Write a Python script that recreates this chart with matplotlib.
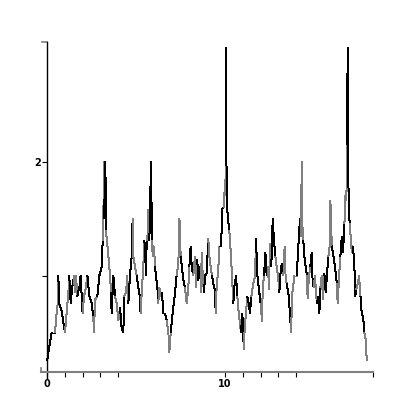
import numpy as np
import matplotlib
matplotlib.use('Agg')
import matplotlib.pyplot as plt
from matplotlib.collections import LineCollection

# Data
x_vals = [0.02, 0.075, 0.26, 0.45, 0.54, 0.6, 0.64, 0.67, 0.82, 1.01, 1.1, 1.2, 1.25, 1.33,
          1.42, 1.52, 1.57, 1.63, 1.7, 1.82, 1.89, 2.0, 2.08, 2.19, 2.27, 2.38, 2.51, 2.6,
          2.64, 2.7, 2.83, 2.94, 3.07, 3.13, 3.16, 3.2, 3.22, 3.25, 3.28, 3.31, 3.45, 3.54,
          3.6, 3.63, 3.73, 3.82, 3.91, 4.01, 4.1, 4.19, 4.29, 4.33, 4.44, 4.51, 4.57, 4.66,
          4.76, 4.81, 4.85, 4.94, 5.04, 5.13, 5.19, 5.26, 5.32, 5.41, 5.47, 5.52, 5.56, 5.6,
          5.66, 5.69, 5.75, 5.79, 5.84, 5.9, 5.94, 6.01, 6.07, 6.12, 6.2, 6.25, 6.31, 6.39,
          6.46, 6.54, 6.63, 6.72, 6.82, 6.87, 6.95, 7.06, 7.19, 7.28, 7.38, 7.44, 7.51, 7.58,
          7.66, 7.75, 7.85, 7.94, 8.0, 8.07, 8.13, 8.22, 8.31, 8.37, 8.44, 8.5, 8.6, 8.65,
          8.69, 8.75, 8.82, 8.88, 8.97, 9.06, 9.12, 9.19, 9.27, 9.34, 9.42, 9.48, 9.53, 9.63,
          9.68, 9.78, 9.85, 9.94, 10.0, 10.03, 10.06, 10.09, 10.15, 10.24, 10.34, 10.39,
          10.47, 10.52, 10.62, 10.69, 10.77, 10.84, 10.9, 10.97, 11.03, 11.05, 11.11, 11.18,
          11.25, 11.33, 11.4, 11.48, 11.59, 11.69, 11.74, 11.82, 11.93, 12.0, 12.08, 12.12,
          12.19, 12.27, 12.34, 12.42, 12.47, 12.53, 12.6, 12.68, 12.75, 12.83, 12.9, 12.98,
          13.05, 13.13, 13.2, 13.28, 13.35, 13.4, 13.46, 13.56, 13.65, 13.71, 13.78, 13.9,
          14.03, 14.12, 14.21, 14.27, 14.31, 14.35, 14.4, 14.46, 14.53, 14.61, 14.64, 14.72,
          14.79, 14.87, 14.92, 14.98, 15.06, 15.11, 15.17, 15.24, 15.3, 15.36, 15.43, 15.51,
          15.58, 15.66, 15.73, 15.81, 15.88, 15.92, 16.0, 16.09, 16.18, 16.28, 16.33, 16.41,
          16.48, 16.56, 16.63, 16.71, 16.78, 16.82, 16.86, 16.89, 16.93, 17.0, 17.08, 17.12,
          17.19, 17.27, 17.31, 17.38, 17.46, 17.53, 17.61, 17.68, 17.76, 17.83, 17.91, 17.96]
y_vals = [0.26, 0.33, 0.5, 0.5, 0.67, 0.75, 1.0, 0.76, 0.69, 0.5, 0.67, 0.85, 1.0, 0.76,
          0.9, 1.0, 0.85, 1.0, 0.82, 0.9, 1.0, 0.67, 0.82, 0.9, 1.0, 0.82, 0.76, 0.64,
          0.5, 0.79, 0.82, 1.0, 1.08, 1.31, 1.4, 2.0, 1.5, 2.0, 2.0, 1.4, 1.17, 1.0,
          0.85, 0.67, 1.0, 0.82, 0.76, 0.61, 0.72, 0.55, 0.5, 0.82, 0.85, 1.0, 0.76, 1.0,
          1.17, 1.5, 1.17, 1.08, 1.0, 0.9, 0.85, 0.67, 0.85, 1.08, 1.31, 1.17, 1.0, 1.31,
          1.37, 1.58, 1.31, 1.58, 2.0, 1.31, 1.17, 1.26, 1.08, 1.0, 0.9, 0.76, 0.9, 0.82,
          0.85, 0.67, 0.67, 0.61, 0.5, 0.33, 0.5, 0.67, 0.85, 1.0, 1.11, 1.5, 1.17, 1.08,
          0.96, 0.9, 0.76, 0.9, 1.08, 1.26, 1.08, 1.0, 1.17, 0.9, 1.14, 0.96, 1.08, 0.85,
          1.2, 1.0, 0.85, 1.0, 1.02, 1.33, 1.17, 1.08, 1.0, 0.93, 0.88, 0.67, 0.9, 1.08,
          1.26, 1.26, 1.59, 1.6, 1.84, 1.7, 3.0, 1.72, 1.52, 1.4, 1.17, 1.0,
          0.76, 0.9, 1.0, 0.82, 0.67, 0.58, 0.5, 0.67, 0.49, 0.35, 0.55, 0.67,
          0.82, 0.76, 0.67, 0.82, 0.93, 1.0, 1.33, 1.0, 0.85, 0.76, 0.6, 0.9,
          1.0, 1.2, 1.0, 1.08, 0.88, 1.28, 1.08, 1.5, 1.31, 1.17, 1.08, 1.0,
          0.85, 1.05, 1.11, 1.0, 1.26, 1.01, 0.93, 0.85, 0.67, 0.5, 0.85, 1.0,
          1.0, 1.26, 1.5, 1.34, 2.0, 1.43, 1.31, 1.17, 1.08, 1.0, 0.8, 1.0,
          1.08, 1.2, 0.96, 0.9, 1.0, 0.85, 0.76, 0.82, 0.67, 0.9, 1.0, 0.79,
          1.02, 0.85, 1.02, 1.17, 1.26, 1.66, 1.26, 1.17, 1.08, 0.93, 0.76, 1.0,
          1.17, 1.34, 1.2, 1.46, 1.75, 1.66, 2.15, 3.0, 1.81, 1.46, 1.31, 1.2,
          1.26, 1.08, 0.82, 0.88, 0.93, 1.0, 0.82, 0.67, 0.64, 0.5, 0.44, 0.26]

x_major = [0, 10]
x_minor = [1, 2, 3, 4, 11, 12, 13, 14, 18.29]
y_major = [2]
y_minor = [1]

fig = plt.figure(figsize=(4.15, 4.15), dpi=100)
ax = fig.add_axes([38/415, 35/415, 338/415, 342/415])
ax.set_xlim(-9/17.8, 329/17.8)
ax.set_ylim(0.085, 3.085)

# line drawn as segments alternating black / gray, no antialiasing like the original
pts = np.column_stack([x_vals, y_vals])
segs = np.stack([pts[:-1], pts[1:]], axis=1)
cols = ['black' if (i // 3) % 2 == 0 else '#808080' for i in range(len(segs))]
lc = LineCollection(segs, colors=cols, linewidths=0.72, antialiaseds=False)
ax.add_collection(lc)

for s in ['top', 'right']:
    ax.spines[s].set_visible(False)
ax.spines['left'].set_position(('data', 0))
ax.spines['left'].set_bounds(0.103, 3.05)
ax.spines['left'].set_color('black')
ax.spines['bottom'].set_position(('data', 0.155))
ax.spines['bottom'].set_bounds(-0.35, 18.29)
ax.spines['bottom'].set_color('#808080')
ax.spines['left'].set_linewidth(1.0)
ax.spines['bottom'].set_linewidth(1.5)

# small end marks on the axes
ax.plot([-0.35, -0.35], [0.155, 0.19], color='#808080', lw=1.2, clip_on=False)
ax.plot([-0.3, 0], [3.05, 3.05], color='#808080', lw=1.2, clip_on=False)

ax.set_xticks(x_major)
ax.set_xticklabels(['0', '10'])
ax.set_xticks(x_minor, minor=True)
ax.set_yticks(y_major)
ax.set_yticklabels(['2'])
ax.set_yticks(y_minor, minor=True)
ax.tick_params(axis='both', which='both', direction='out', length=3.5, width=0.8, color='black')
ax.tick_params(axis='x', which='major', labelsize=7, pad=1.5)
ax.tick_params(axis='y', which='major', labelsize=7, pad=1)
for lab in ax.get_xticklabels() + ax.get_yticklabels():
    lab.set_fontweight('bold')

fig.savefig('out.png', dpi=100, facecolor='white')
